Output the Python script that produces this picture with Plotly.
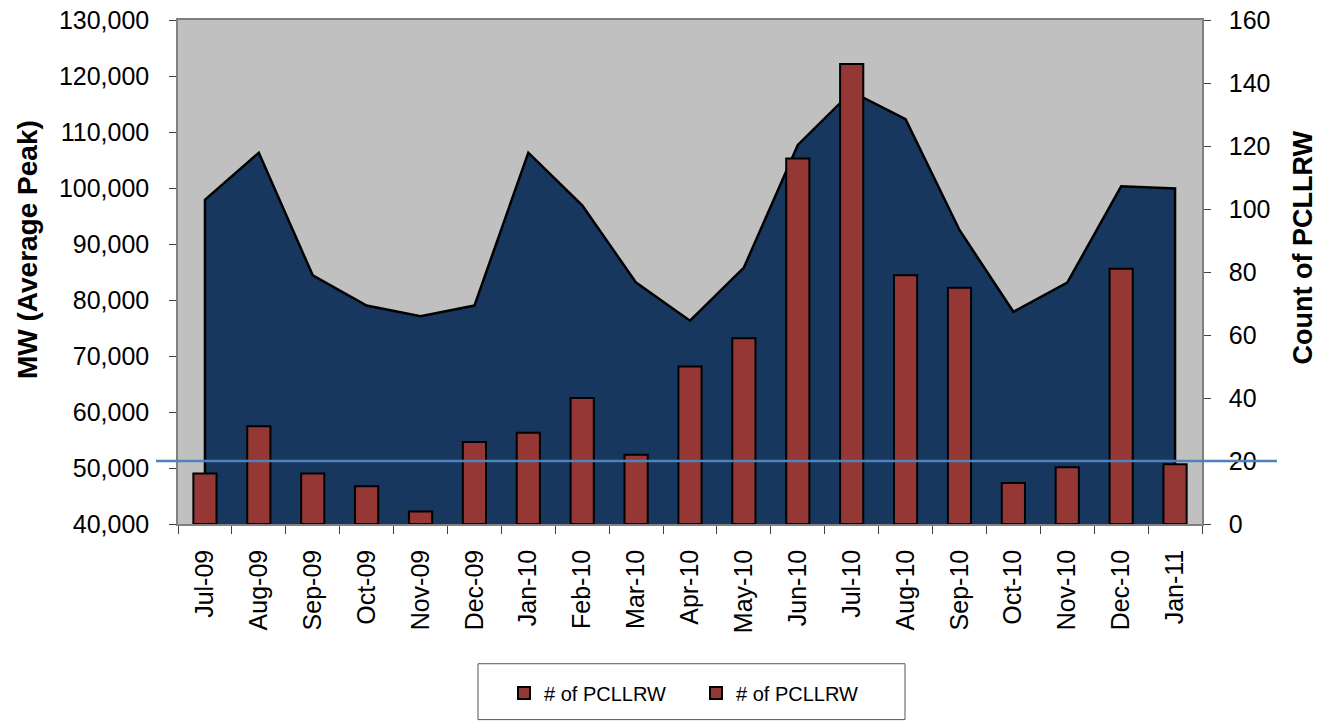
import plotly.graph_objects as go

months = ["Jul-09", "Aug-09", "Sep-09", "Oct-09", "Nov-09", "Dec-09", "Jan-10",
          "Feb-10", "Mar-10", "Apr-10", "May-10", "Jun-10", "Jul-10", "Aug-10",
          "Sep-10", "Oct-10", "Nov-10", "Dec-10", "Jan-11"]
mw_avg_peak = [97900, 106300, 84400, 79000, 77100, 79000, 106300,
               96900, 83100, 76300, 85800, 107700, 117200, 112300,
               92500, 77900, 83100, 100300, 99900]
pcllrw_count = [16, 31, 16, 12, 4, 26, 29, 40, 22, 50, 59, 116, 146, 79,
                75, 13, 18, 81, 19]
threshold_count = 20
left_min, left_max = 40000, 130000
right_min, right_max = 0, 160
left_title = "MW (Average Peak)"
right_title = "Count of PCLLRW"

FONT = "Liberation Sans, Arial, sans-serif"

# closed polygon for the area series (drawn down to the axis minimum)
area_x = [months[0]] + months + [months[-1]]
area_y = [left_min] + mw_avg_peak + [left_min]

fig = go.Figure()
fig.add_trace(go.Scatter(
    x=area_x, y=area_y, mode="lines", fill="toself",
    fillcolor="#17375E", line=dict(color="black", width=2.5),
    showlegend=False, hoverinfo="skip", yaxis="y"))
fig.add_trace(go.Bar(
    x=months, y=pcllrw_count, name="# of PCLLRW", yaxis="y2",
    marker=dict(color="#953735", line=dict(color="black", width=2)),
    width=0.43))
fig.add_trace(go.Bar(
    x=[months[0]], y=[None], name="# of PCLLRW", yaxis="y2",
    marker=dict(color="#953735", line=dict(color="black", width=2)),
    hoverinfo="skip"))

W, H = 1322, 723
# plot area in window pixels
PL, PR, PT, PB = 178, 1202, 20, 525
ml, mt, mr, mb = PL, PT, W - PR, H - PB
pw, ph = PR - PL, PB - PT

def px_x(p):
    return (p - PL) / pw

def px_y(p):
    return (PB - p) / ph

axis_common = dict(showgrid=False, zeroline=False, automargin=False,
                   showline=True, linecolor="#808080", linewidth=1.5,
                   ticks="outside", ticklen=7, tickcolor="#404040",
                   ticklabeloverflow="allow")

fig.update_layout(
    width=W, height=H,
    margin=dict(l=ml, r=mr, t=mt, b=mb),
    paper_bgcolor="white", plot_bgcolor="#C0C0C0",
    font=dict(family=FONT, size=25, color="black"),
    barmode="overlay",
    xaxis=dict(type="category", tickangle=-90, showgrid=False, automargin=False,
               showline=True, linecolor="#808080", linewidth=1.5, mirror=True,
               ticks="outside", ticklen=8, tickcolor="#404040",
               tickson="boundaries", ticklabelstandoff=14,
               ticklabeloverflow="allow", tickfont=dict(size=25)),
    yaxis=dict(range=[left_min, left_max], dtick=10000, tickformat=",d",
               ticklabelstandoff=15, **axis_common),
    yaxis2=dict(range=[right_min, right_max], dtick=20, overlaying="y",
                side="right", ticklabelstandoff=13, **axis_common),
    legend=dict(orientation="h", x=px_x(504), xanchor="left",
                y=px_y(693), yanchor="middle",
                bgcolor="rgba(0,0,0,0)", borderwidth=0,
                entrywidth=147, entrywidthmode="pixels",
                font=dict(size=20), traceorder="normal"),
    annotations=[
        dict(text="<b>" + left_title + "</b>", textangle=-90,
             xref="paper", yref="paper", x=px_x(27.5), y=px_y(250),
             xanchor="center", yanchor="middle", showarrow=False,
             font=dict(size=28)),
        dict(text="<b>" + right_title + "</b>", textangle=-90,
             xref="paper", yref="paper", x=px_x(1303), y=px_y(248),
             xanchor="center", yanchor="middle", showarrow=False,
             font=dict(size=27)),
    ],
    shapes=[
        dict(type="rect", xref="paper", yref="paper",
             x0=px_x(478), x1=px_x(905), y0=px_y(721), y1=px_y(665),
             line=dict(color="#555555", width=1), fillcolor="rgba(0,0,0,0)"),
        dict(type="line", xref="paper", yref="y2",
             x0=px_x(156), x1=px_x(1277),
             y0=threshold_count, y1=threshold_count,
             line=dict(color="#4F81BD", width=2.5), layer="above"),
    ],
)

fig.write_html("out.html",
               config={"displayModeBar": False},
               post_script="document.body.style.margin='0';"
                           "document.body.style.overflow='hidden';")
